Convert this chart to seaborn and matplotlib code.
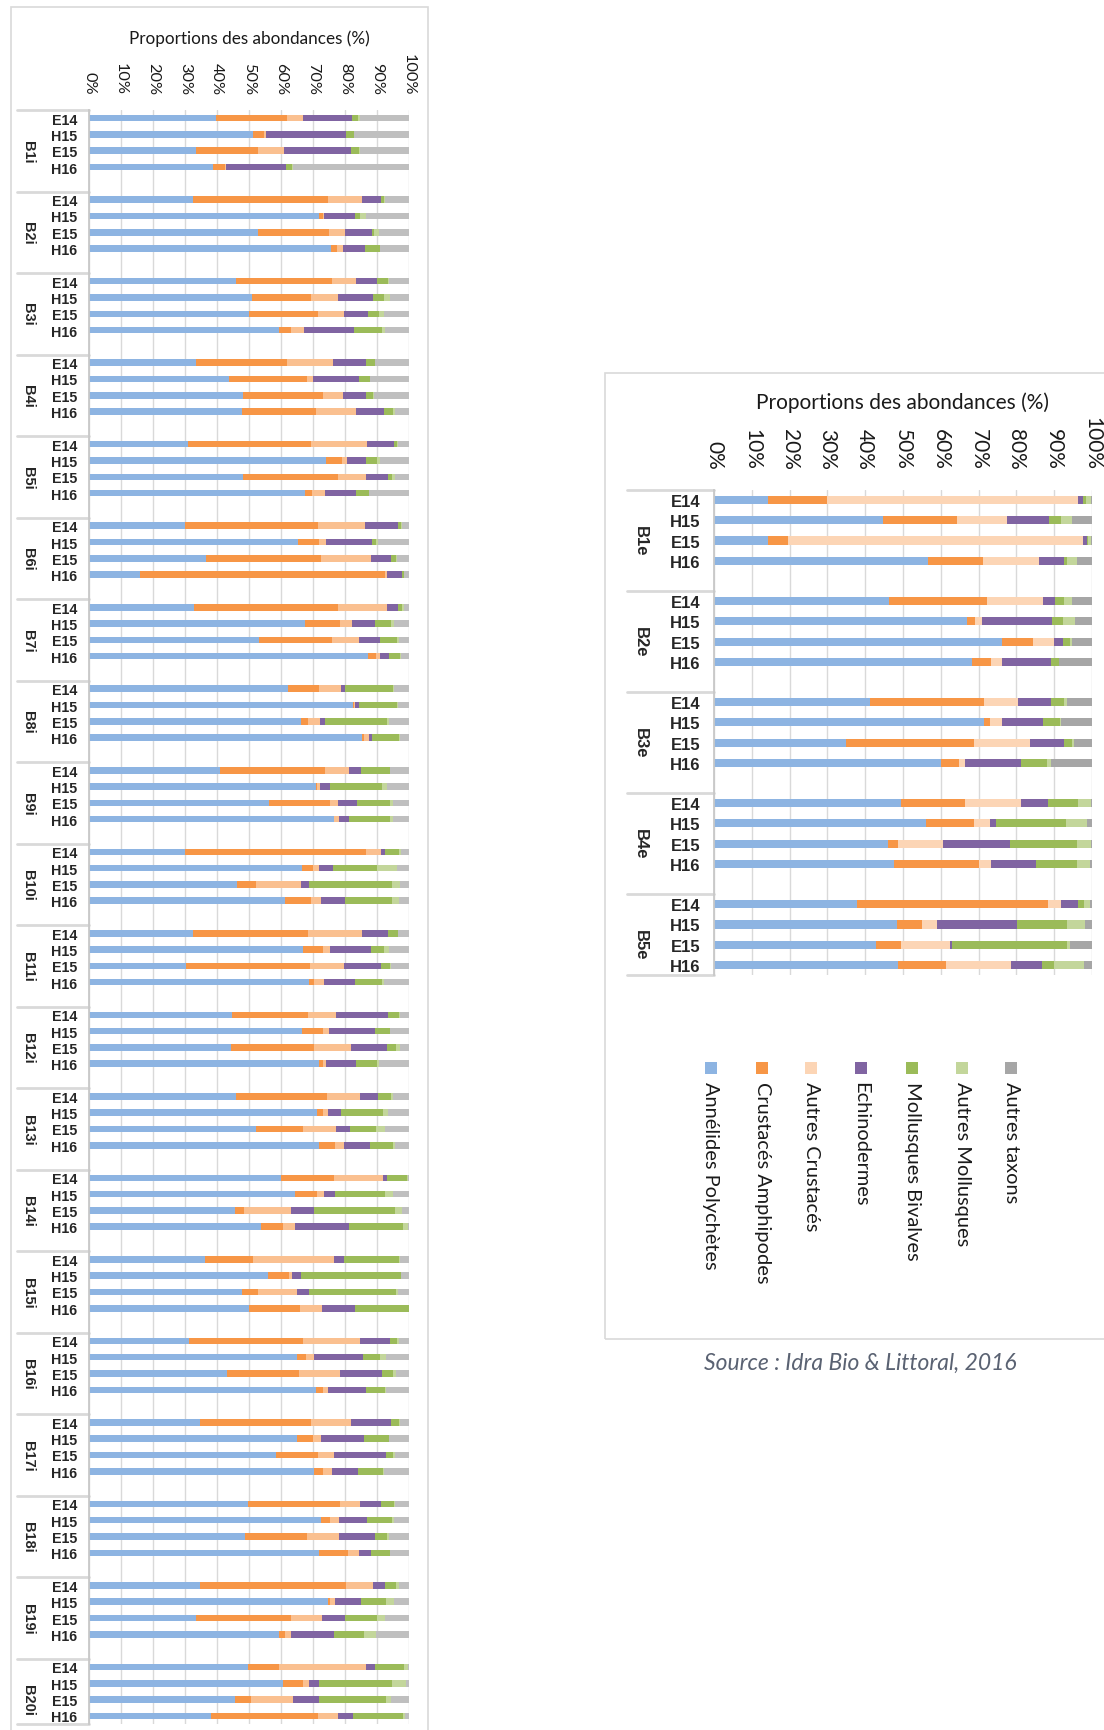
import numpy as np
import pandas as pd
import matplotlib
matplotlib.use("Agg")
import matplotlib.pyplot as plt
import matplotlib.transforms as mtrans
from matplotlib.lines import Line2D
from matplotlib.patches import Rectangle
import seaborn as sns

# ---------------------------------------------------------------- data
TAXA = ["Annélides Polychètes", "Crustacés Amphipodes", "Autres Crustacés",
        "Echinodermes", "Mollusques Bivalves", "Autres Mollusques", "Autres taxons"]
SAMPLES = ["E14", "H15", "E15", "H16"]

stations_i = ["B1i", "B2i", "B3i", "B4i", "B5i", "B6i", "B7i", "B8i", "B9i", "B10i",
              "B11i", "B12i", "B13i", "B14i", "B15i", "B16i", "B17i", "B18i", "B19i", "B20i"]
stations_e = ["B1e", "B2e", "B3e", "B4e", "B5e"]

# intertidal stations: one row per station, values for E14, H15, E15, H16 (%)
annelides_i = [39.6, 51.2, 33.4, 38.9,  32.4, 72.0, 52.7, 75.6,  45.8, 50.8, 50.1, 59.3,
               33.4, 43.9, 48.2, 47.7,  30.8, 74.2, 48.2, 67.6,  30.1, 65.3, 36.6, 15.8,
               32.7, 67.4, 53.2, 87.3,  62.3, 82.5, 66.3, 85.4,  40.8, 70.9, 56.3, 76.5,
               30.1, 66.6, 46.2, 61.3,  32.4, 66.9, 30.3, 68.9,  44.6, 66.6, 44.3, 72.0,
               45.8, 71.3, 52.3, 72.0,  60.1, 64.3, 45.5, 53.9,  36.2, 55.9, 47.8, 50.1,
               31.3, 65.1, 43.2, 70.9,  34.7, 65.1, 58.3, 70.4,  49.7, 72.4, 48.6, 72.0,
               34.7, 74.7, 33.5, 59.3,  49.7, 60.5, 45.5, 38.2]
amphipodes_i = [22.3, 3.5, 19.4, 3.6,  42.3, 1.2, 22.3, 2.0,  30.0, 18.5, 21.5, 3.8,
                28.6, 24.2, 25.0, 23.2,  38.5, 4.8, 29.5, 2.2,  41.5, 6.7, 35.8, 76.6,
                45.0, 11.1, 22.7, 2.3,  9.7, 0.4, 2.2, 0.4,  33.1, 0.4, 19.1, 0.2,
                56.5, 3.4, 6.1, 8.0,  36.1, 6.1, 38.7, 1.5,  23.9, 6.4, 26.1, 1.0,
                28.5, 1.7, 14.6, 5.0,  16.4, 6.9, 3.0, 6.7,  15.0, 6.5, 5.1, 15.8,
                35.6, 2.6, 22.3, 2.3,  34.6, 4.9, 13.3, 2.8,  28.8, 3.0, 19.5, 8.9,
                45.7, 0.7, 29.7, 1.9,  9.6, 6.4, 5.0, 33.4]
autres_crust_i = [5.0, 0.7, 8.0, 0.3,  10.6, 0.3, 4.9, 1.9,  7.7, 8.4, 8.0, 4.2,
                  14.2, 1.8, 6.1, 12.6,  17.6, 1.7, 8.8, 4.0,  14.6, 2.2, 15.6, 0.6,
                  15.3, 3.8, 8.4, 1.2,  6.9, 0.2, 3.8, 1.8,  7.3, 1.0, 2.3, 1.4,
                  4.6, 2.0, 13.9, 3.3,  16.8, 2.4, 10.6, 3.1,  8.8, 2.0, 11.5, 1.2,
                  10.3, 1.7, 10.4, 2.6,  15.4, 2.3, 14.7, 3.7,  25.3, 1.1, 12.1, 6.8,
                  17.8, 2.6, 13.0, 1.5,  12.7, 2.4, 5.0, 2.6,  6.2, 2.7, 10.0, 3.4,
                  8.2, 1.6, 9.5, 2.0,  27.3, 2.0, 13.1, 6.2]
echino_i = [15.4, 25.0, 21.1, 18.7,  5.9, 9.5, 8.5, 6.7,  6.5, 11.1, 7.6, 15.4,
            10.3, 14.4, 7.2, 8.8,  8.5, 5.8, 6.9, 9.7,  10.3, 14.2, 6.3, 4.7,
            3.6, 7.0, 6.5, 3.1,  1.1, 1.2, 1.6, 0.8,  3.8, 3.1, 6.2, 3.1,
            1.2, 4.2, 2.7, 7.4,  8.1, 12.6, 11.6, 9.5,  16.1, 14.3, 11.1, 9.3,
            5.8, 4.2, 4.2, 8.1,  1.1, 3.4, 7.2, 17.0,  3.1, 2.7, 3.9, 10.4,
            9.3, 15.4, 13.1, 11.9,  12.3, 13.4, 16.2, 8.2,  6.6, 8.9, 11.2, 3.9,
            3.8, 8.0, 7.3, 13.4,  2.7, 3.1, 8.4, 4.6]
bivalves_i = [1.9, 2.3, 2.4, 1.9,  1.1, 1.6, 0.8, 4.6,  3.5, 3.5, 3.4, 8.9,
              2.8, 3.4, 2.3, 2.7,  1.0, 3.4, 1.2, 3.9,  1.0, 1.2, 1.5, 0.6,
              1.3, 5.0, 5.3, 3.4,  15.0, 12.0, 19.1, 8.5,  9.0, 16.2, 10.1, 12.8,
              4.6, 13.8, 25.7, 14.6,  3.1, 4.3, 2.8, 8.6,  3.5, 4.7, 3.0, 6.5,
              3.9, 13.0, 8.2, 7.3,  6.4, 15.5, 25.1, 16.8,  17.4, 31.2, 26.9, 16.9,
              2.3, 5.1, 3.4, 5.8,  2.6, 7.9, 2.3, 8.0,  4.1, 7.7, 3.7, 5.8,
              3.4, 7.7, 10.0, 9.2,  9.2, 22.7, 20.8, 15.7]
autres_moll_i = [0.6, 0.2, 0.5, 0.2,  0.2, 1.9, 1.4, 0.2,  0.3, 1.9, 1.7, 1.0,
                 0.2, 0.2, 0.4, 0.6,  0.3, 1.1, 1.0, 0.2,  0.2, 0.6, 0.6, 0.2,
                 0.6, 0.9, 0.7, 0.2,  0.2, 0.2, 0.8, 0.3,  0.2, 1.4, 1.0, 1.0,
                 0.5, 6.3, 2.7, 2.2,  0.2, 1.5, 0.5, 0.7,  0.4, 0.2, 1.3, 0.6,
                 0.7, 1.6, 2.7, 0.7,  0.4, 2.6, 2.2, 1.7,  0.2, 0.2, 0.9, 0.0,
                 0.5, 1.9, 1.0, 0.5,  0.3, 0.2, 0.6, 0.3,  0.3, 0.6, 0.7, 0.2,
                 1.1, 2.6, 2.4, 3.8,  1.1, 4.3, 1.5, 0.7]
autres_taxons_i = [15.2, 17.1, 15.2, 36.4,  7.5, 13.5, 9.4, 9.0,  6.2, 5.8, 7.7, 7.4,
                   10.5, 12.1, 10.8, 4.4,  3.3, 9.0, 4.4, 12.4,  2.3, 9.8, 3.6, 1.5,
                   1.5, 4.8, 3.2, 2.5,  4.8, 3.5, 6.2, 2.8,  5.8, 7.0, 5.0, 5.0,
                   2.5, 3.7, 2.7, 3.2,  3.3, 6.2, 5.5, 7.7,  2.7, 5.8, 2.7, 9.4,
                   5.0, 6.5, 7.6, 4.3,  0.2, 5.0, 2.3, 0.2,  2.8, 2.4, 3.3, 0.0,
                   3.2, 7.3, 4.0, 7.1,  2.8, 6.1, 4.3, 7.7,  4.3, 4.7, 6.3, 5.8,
                   3.1, 4.7, 7.6, 10.4,  0.4, 1.0, 5.7, 1.2]

# subtidal stations
annelides_e = [14.2, 44.8, 14.2, 56.5,  46.4, 66.8, 76.1, 68.3,  41.3, 71.5, 34.9, 60.1,
               49.6, 56.2, 46.0, 47.5,  37.7, 48.3, 42.8, 48.8]
amphipodes_e = [15.7, 19.6, 5.5, 14.6,  25.9, 2.3, 8.3, 5.1,  30.2, 1.6, 33.9, 4.7,
                16.8, 12.6, 2.8, 22.7,  50.7, 6.7, 6.8, 12.5]
autres_crust_e = [66.3, 13.0, 78.0, 14.9,  14.8, 1.9, 5.5, 2.7,  9.0, 3.0, 14.8, 1.6,
                  14.9, 4.3, 11.7, 3.2,  3.4, 4.0, 12.8, 17.3]
echino_e = [1.5, 11.3, 0.9, 6.6,  3.2, 18.5, 2.4, 13.1,  8.7, 11.0, 9.1, 14.9,
            7.1, 1.5, 17.7, 11.8,  4.4, 21.1, 0.5, 8.2]
bivalves_e = [0.7, 3.2, 0.3, 0.8,  2.3, 2.8, 2.0, 2.0,  3.5, 4.4, 1.9, 6.7,
              7.8, 18.4, 17.7, 10.7,  1.6, 13.4, 30.6, 3.1]
autres_moll_e = [1.4, 2.7, 0.9, 2.5,  2.0, 3.1, 0.3, 0.1,  0.7, 0.3, 0.7, 1.2,
                 3.6, 5.6, 3.9, 3.5,  1.6, 4.7, 0.7, 7.9]
autres_taxons_e = [0.2, 5.4, 0.2, 4.1,  5.4, 4.6, 5.4, 8.7,  6.6, 8.2, 4.7, 10.8,
                   0.2, 1.4, 0.2, 0.6,  0.6, 1.8, 5.8, 2.2]

colors_i = ["#8DB4E2", "#F79646", "#FAC090", "#8064A2", "#9BBB59", "#C3D69B", "#BFBFBF"]
colors_e = ["#8DB4E2", "#F79646", "#FCD5B5", "#8064A2", "#9BBB59", "#C3D69B", "#A6A6A6"]

# ---------------------------------------------------------------- helpers
W, H = 1104, 1731
SLOTS = 5  # four samples + one empty slot between stations


def long_frame(stations, series):
    rows = []
    for g, st in enumerate(stations):
        for k, smp in enumerate(SAMPLES):
            vals = [s[g * 4 + k] for s in series]
            cum = np.cumsum(vals)
            for t, name in enumerate(TAXA):
                rows.append({"station": st, "sample": smp, "pos": g * SLOTS + k,
                             "taxon": name, "cum": min(cum[t], 100.0)})
    return pd.DataFrame(rows)


def fig_rect(x0, y0, x1, y1):
    """pixel box (top-left origin) -> figure fraction rect"""
    return [x0 / W, 1 - y1 / H, (x1 - x0) / W, (y1 - y0) / H]


def draw_panel(fig, stations, series, colors, box, cfg):
    df = long_frame(stations, series)
    ax = fig.add_axes(fig_rect(*box))
    palette = dict(zip(TAXA, colors))
    sns.barplot(data=df, x="cum", y="pos", hue="taxon", hue_order=TAXA[::-1],
                palette=palette, dodge=False, orient="h", native_scale=True,
                errorbar=None, width=0.4, saturation=1, linewidth=0,
                legend=False, ax=ax)
    n_slots = len(stations) * SLOTS - 1
    ax.set_ylim(n_slots - 0.5, -0.5)
    ax.set_xlim(0, 100)
    ax.set_xlabel("")
    ax.set_ylabel("")

    ticks = np.arange(0, 101, 10)
    ax.set_xticks(ticks, [f"{t}%" for t in ticks])
    ax.xaxis.tick_top()
    ax.tick_params(axis="x", length=0, labelrotation=270, pad=cfg["xpad"],
                   labelsize=cfg["xsize"], labelcolor="#1a1a1a")
    for lab in ax.get_xticklabels():
        lab.set_family("Lato")

    positions = [g * SLOTS + k for g in range(len(stations)) for k in range(4)]
    ax.set_yticks(positions, SAMPLES * len(stations))
    ax.tick_params(axis="y", length=0, pad=cfg["ypad"], labelsize=cfg["ysize"])
    for lab in ax.get_yticklabels():
        lab.set_family("Liberation Sans")
        lab.set_fontweight("bold")

    ax.set_axisbelow(True)
    ax.xaxis.grid(True, color="#d9d9d9", lw=1)
    ax.yaxis.grid(False)
    for side in ["top", "right", "bottom"]:
        ax.spines[side].set_visible(False)
    ax.spines["left"].set_color("#c8c8c8")
    ax.spines["left"].set_linewidth(1.3)

    # station labels and separators of the two-level category axis
    tr = mtrans.blended_transform_factory(fig.transFigure, ax.transData)
    for g, st in enumerate(stations):
        ax.text(cfg["gx"] / W, g * SLOTS + 2, st, transform=tr, rotation=270,
                ha="center", va="center", fontsize=cfg["gsize"],
                fontweight="bold", family="Liberation Sans", clip_on=False)
    bounds = [g * SLOTS - 0.5 for g in range(len(stations))] + [n_slots - 0.5]
    for b in bounds:
        ax.add_line(Line2D([cfg["sep_x"] / W, box[0] / W], [b, b], transform=tr,
                           color="#d9d9d9", lw=2, clip_on=False))

    cx = (box[0] + box[2]) / 2
    fig.text(cx / W, 1 - cfg["title_y"] / H, "Proportions des abondances (%)",
             ha="center", va="center", fontsize=cfg["tsize"], family="Lato",
             color="#1a1a1a")
    return ax


# ---------------------------------------------------------------- figure
sns.set_style("white")
plt.rcParams["font.family"] = ["Lato", "DejaVu Sans"]

fig = plt.figure(figsize=(W / 100, H / 100), dpi=100)

# panel frames
fig.add_artist(Rectangle((11 / W, 1 - 1740 / H), 417 / W, 1732 / H,
                         transform=fig.transFigure, fill=False,
                         edgecolor="#d9d9d9", lw=1.2))
fig.add_artist(Rectangle((605 / W, 1 - 1340 / H), 520 / W, 966 / H,
                         transform=fig.transFigure, fill=False,
                         edgecolor="#d9d9d9", lw=1.2))

series_i = [annelides_i, amphipodes_i, autres_crust_i, echino_i,
            bivalves_i, autres_moll_i, autres_taxons_i]
series_e = [annelides_e, amphipodes_e, autres_crust_e, echino_e,
            bivalves_e, autres_moll_e, autres_taxons_e]

draw_panel(fig, stations_i, series_i, colors_i, (89, 111, 409, 1725),
           dict(xpad=11.5, xsize=11.7, ypad=8.5, ysize=10.3, gx=28, gsize=10.5,
                sep_x=17, title_y=39, tsize=12.3))
draw_panel(fig, stations_e, series_e, colors_e, (714, 491, 1092, 976),
           dict(xpad=15, xsize=15, ypad=10, ysize=12, gx=640, gsize=12,
                sep_x=627, title_y=403, tsize=15))

# legend: vertical entries under the subtidal panel
leg_x = [711, 762, 811, 861, 912, 962, 1011]
for x, name, col in zip(leg_x, TAXA, colors_e):
    fig.add_artist(Rectangle(((x - 6) / W, 1 - 1075 / H), 12 / W, 12 / H,
                             transform=fig.transFigure, facecolor=col,
                             edgecolor="none"))
    fig.text(x / W, 1 - 1082 / H, name, rotation=270, ha="center", va="top",
             fontsize=14.4, family="Lato", color="#1a1a1a")

fig.text(860 / W, 1 - 1363 / H, "Source : Idra Bio & Littoral, 2016",
         ha="center", va="center", fontsize=16.5, style="italic",
         family="Lato", color="#5a6272")

fig.savefig("out.png", dpi=100)
